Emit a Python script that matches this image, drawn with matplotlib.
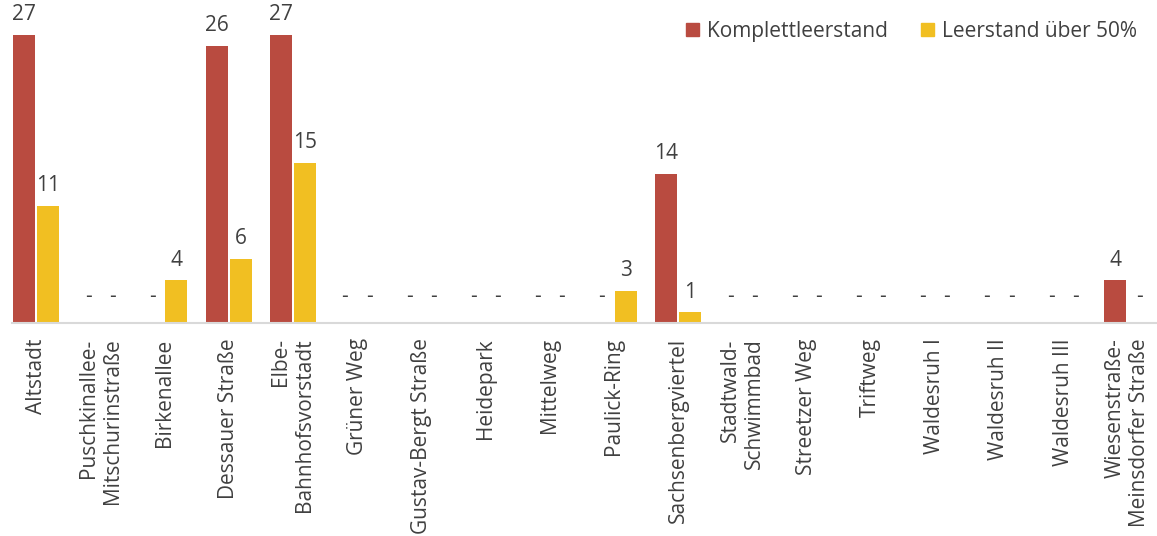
import matplotlib
matplotlib.use("Agg")
import matplotlib.pyplot as plt
from matplotlib.patches import Patch

plt.rcParams['font.family'] = ['Open Sans', 'DejaVu Sans']

categories = [
    "Altstadt", "Puschkinallee-\nMitschurinstraße", "Birkenallee", "Dessauer Straße",
    "Elbe-\nBahnhofsvorstadt", "Grüner Weg", "Gustav-Bergt Straße", "Heidepark",
    "Mittelweg", "Paulick-Ring", "Sachsenbergviertel", "Stadtwald-\nSchwimmbad",
    "Streetzer Weg", "Triftweg", "Waldesruh I", "Waldesruh II", "Waldesruh III",
    "Wiesenstraße-\nMeinsdorfer Straße",
]
komplett = [27, 0, 0, 26, 27, 0, 0, 0, 0, 0, 14, 0, 0, 0, 0, 0, 0, 4]
ueber50 = [11, 0, 4, 6, 15, 0, 0, 0, 0, 3, 1, 0, 0, 0, 0, 0, 0, 0]

RED = "#b94b40"
YELLOW = "#f1bf22"
TXT = "#404040"

W, H = 1157, 536
fig = plt.figure(figsize=(W / 100, H / 100), dpi=100)
ax = fig.add_axes([12 / W, (H - 323) / H, (W - 12) / W, 323 / H])

x = list(range(len(categories)))
bw = 0.343
off = 0.187
xr = [i - off for i in x]
xy = [i + off for i in x]
ax.bar(xr, komplett, width=bw, color=RED, label="Komplettleerstand")
ax.bar(xy, ueber50, width=bw, color=YELLOW, label="Leerstand über 50%")

ax.set_xlim((12 - 36) / 64.2, (W - 36) / 64.2)
ax.set_ylim(0, 323 / 10.67)

for xs, vals in ((xr, komplett), (xy, ueber50)):
    for xi, v in zip(xs, vals):
        if v > 0:
            ax.annotate(str(v), (xi, v), xytext=(0, 14.5), textcoords="offset points",
                        ha="center", va="center", fontsize=15, color=TXT)
        else:
            ax.annotate("-", (xi, 0), xytext=(0, 19), textcoords="offset points",
                        ha="center", va="center", fontsize=15, color=TXT)

for s in ("top", "right", "left"):
    ax.spines[s].set_visible(False)
ax.spines["bottom"].set_color("#d9d9d9")
ax.spines["bottom"].set_linewidth(1.5)
ax.set_yticks([])
ax.set_xticks(x)
ax.set_xticklabels(categories, rotation=90, ha="center", va="top",
                   multialignment="right", fontsize=15, color=TXT)
ax.tick_params(axis="x", length=0, pad=11)

handles = [Patch(color=RED), Patch(color=YELLOW)]
fig.legend(handles, ["Komplettleerstand", "Leerstand über 50%"], ncol=2,
           loc="upper right", bbox_to_anchor=(1156 / W, 1 - 2 / H), frameon=False,
           handlelength=0.6, handleheight=0.6, handletextpad=0.4, columnspacing=1.6,
           fontsize=15, labelcolor=TXT)

fig.savefig("out.png", dpi=100)
